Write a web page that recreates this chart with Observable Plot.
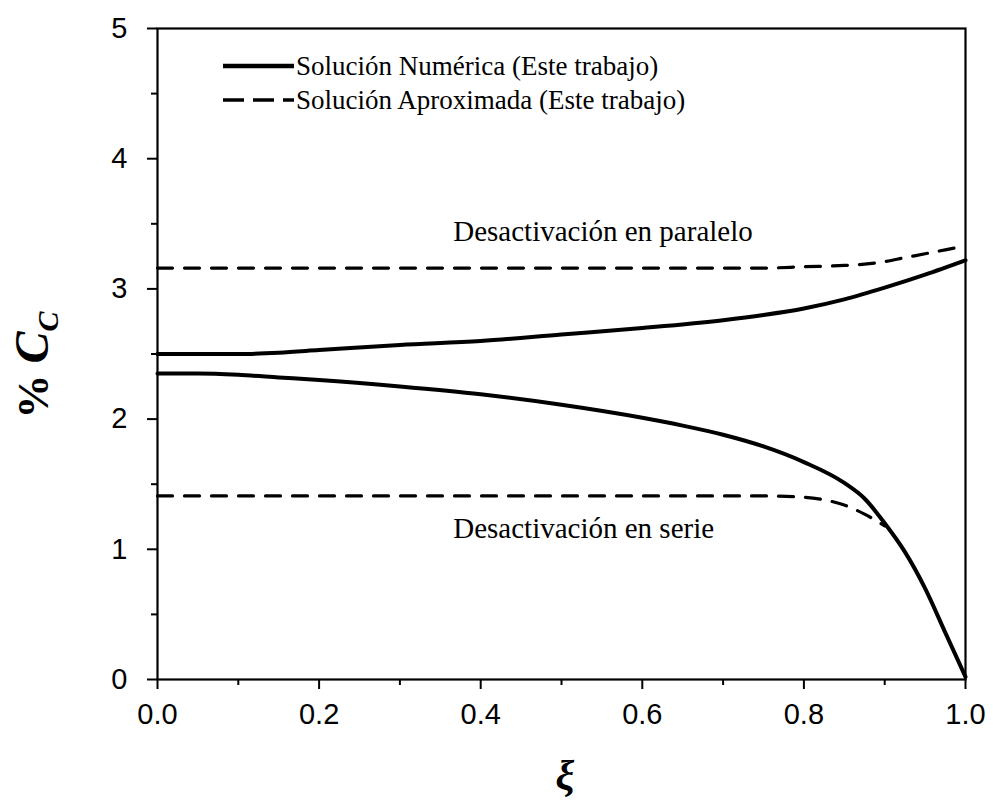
<!DOCTYPE html>
<html>
<head>
<meta charset="utf-8">
<script src="https://cdn.jsdelivr.net/npm/d3@7"></script>
<script src="https://cdn.jsdelivr.net/npm/@observablehq/plot@0.6"></script>
<style>
  html, body { margin: 0; padding: 0; background: #fff; }
  #chart { position: relative; width: 993px; height: 802px; }
</style>
</head>
<body>
<div id="chart"></div>
<script>
// Conversión ξ y porcentaje de coque C_C para ambos mecanismos de desactivación
const xiParaleloNum = [0, 0.05, 0.1, 0.15, 0.2, 0.3, 0.4, 0.5, 0.6, 0.7, 0.75, 0.8, 0.85, 0.9, 0.95, 1.0];
const ccParaleloNum = [2.50, 2.50, 2.50, 2.51, 2.53, 2.57, 2.60, 2.65, 2.70, 2.76, 2.80, 2.85, 2.92, 3.01, 3.11, 3.22];

const xiParaleloAprox = [0, 0.2, 0.4, 0.6, 0.7, 0.75, 0.8, 0.85, 0.875, 0.9, 0.925, 0.95, 0.975, 1.0];
const ccParaleloAprox = [3.16, 3.16, 3.16, 3.16, 3.16, 3.16, 3.17, 3.18, 3.19, 3.21, 3.24, 3.27, 3.30, 3.33];

const xiSerieNum = [0, 0.05, 0.1, 0.15, 0.2, 0.3, 0.4, 0.5, 0.6, 0.65, 0.7, 0.75, 0.8, 0.85, 0.875, 0.9, 0.925, 0.95, 0.975, 1.0];
const ccSerieNum = [2.35, 2.35, 2.34, 2.32, 2.30, 2.25, 2.19, 2.11, 2.01, 1.95, 1.88, 1.79, 1.67, 1.51, 1.39, 1.20, 0.98, 0.70, 0.36, 0.02];

const xiSerieAprox = [0, 0.2, 0.4, 0.6, 0.7, 0.75, 0.8, 0.825, 0.85, 0.875, 0.9];
const ccSerieAprox = [1.41, 1.41, 1.41, 1.41, 1.41, 1.41, 1.40, 1.38, 1.34, 1.27, 1.18];

// Ticks
const xMajor = [0, 0.2, 0.4, 0.6, 0.8, 1.0];
const xMinor = [0.1, 0.3, 0.5, 0.7, 0.9];
const yMajor = [0, 1, 2, 3, 4, 5];
const yMinor = [0.5, 1.5, 2.5, 3.5, 4.5];

// Texto de las curvas
const etiquetas = [
  {xi: 0.366, cc: 3.44, texto: "Desactivación en paralelo"},
  {xi: 0.366, cc: 1.16, texto: "Desactivación en serie"}
];

const serie = (xs, ys) => xs.map((x, i) => ({xi: x, cc: ys[i]}));

const serif = "'Liberation Serif', 'Times New Roman', serif";
const sans = "'Liberation Sans', Arial, sans-serif";

const plot = Plot.plot({
  width: 993,
  height: 802,
  marginLeft: 157,
  marginRight: 28,
  marginTop: 28,
  marginBottom: 123,
  style: {fontFamily: sans, fontSize: "29px", background: "#fff", color: "#000"},
  x: {domain: [0, 1], label: null, axis: null},
  y: {domain: [0, 5], label: null, axis: null},
  marks: [
    Plot.line(serie(xiParaleloAprox, ccParaleloAprox), {x: "xi", y: "cc", curve: "monotone-x", stroke: "#000", strokeWidth: 3.2, strokeDasharray: "15,12"}),
    Plot.line(serie(xiSerieAprox, ccSerieAprox), {x: "xi", y: "cc", curve: "monotone-x", stroke: "#000", strokeWidth: 3.2, strokeDasharray: "15,12"}),
    Plot.line(serie(xiParaleloNum, ccParaleloNum), {x: "xi", y: "cc", curve: "monotone-x", stroke: "#000", strokeWidth: 4}),
    Plot.line(serie(xiSerieNum, ccSerieNum), {x: "xi", y: "cc", curve: "monotone-x", stroke: "#000", strokeWidth: 4}),
    Plot.text(etiquetas, {x: "xi", y: "cc", text: "texto", textAnchor: "start", fontFamily: serif, fontSize: 29, fill: "#000"}),
    Plot.axisX(xMajor, {tickSize: 10, tickPadding: 14, strokeWidth: 2, tickFormat: d3.format(".1f")}),
    Plot.axisX(xMinor, {tickSize: 6, strokeWidth: 2, tickFormat: () => ""}),
    Plot.axisY(yMajor, {tickSize: 10, tickPadding: 20, strokeWidth: 2, tickFormat: d3.format("d")}),
    Plot.axisY(yMinor, {tickSize: 6, strokeWidth: 2, tickFormat: () => ""}),
    Plot.frame({stroke: "#000", strokeWidth: 2.2})
  ]
});

document.getElementById("chart").appendChild(plot);

const svg = d3.select(plot);

// Título del eje y: % C_C
const yTitle = svg.append("text")
  .attr("transform", "translate(48,365) rotate(-90)")
  .attr("text-anchor", "middle")
  .attr("font-family", serif)
  .attr("fill", "#000");
yTitle.append("tspan").attr("font-weight", "bold").attr("font-size", 44).text("% ");
yTitle.append("tspan").attr("font-weight", "bold").attr("font-style", "italic").attr("font-size", 48).text("C");
yTitle.append("tspan").attr("font-style", "italic").attr("font-weight", "bold").attr("font-size", 30).attr("dy", 10).text("C");

// Título del eje x: ξ
svg.append("text")
  .attr("x", 565)
  .attr("y", 790)
  .attr("text-anchor", "middle")
  .attr("font-family", serif)
  .attr("font-weight", "bold")
  .attr("font-style", "italic")
  .attr("font-size", 42)
  .attr("fill", "#000")
  .text("ξ");

// Leyenda
const leyenda = [
  {texto: "Solución Numérica (Este trabajo)", dash: null, y: 66},
  {texto: "Solución Aproximada (Este trabajo)", dash: "21,9", y: 100}
];
const g = svg.append("g");
leyenda.forEach(d => {
  const line = g.append("line")
    .attr("x1", 223).attr("x2", 294)
    .attr("y1", d.y).attr("y2", d.y)
    .attr("stroke", "#000")
    .attr("stroke-width", d.dash ? 3.5 : 4.5);
  if (d.dash) line.attr("stroke-dasharray", d.dash);
  g.append("text")
    .attr("x", 296).attr("y", d.y + 9)
    .attr("text-anchor", "start")
    .attr("font-family", serif)
    .attr("font-size", 27)
    .attr("fill", "#000")
    .text(d.texto);
});
</script>
</body>
</html>
